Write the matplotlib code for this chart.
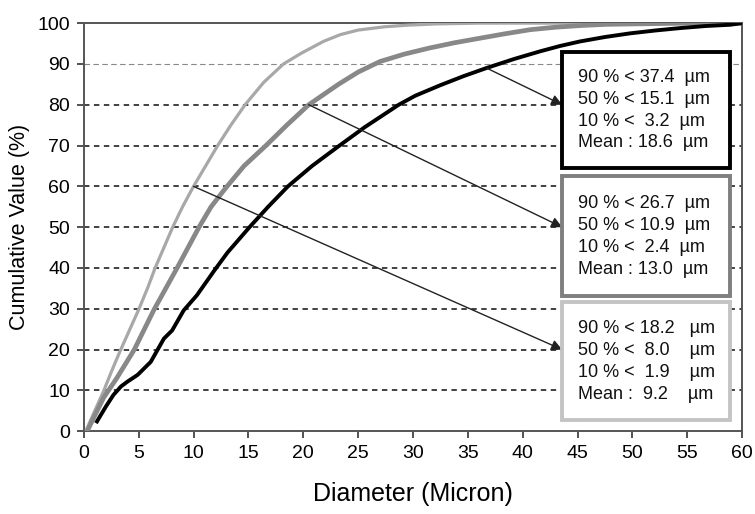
import matplotlib
matplotlib.use("Agg")
from matplotlib import pyplot as plt
from matplotlib.patches import Rectangle

plt.rcParams['font.family'] = ['Liberation Sans', 'DejaVu Sans']

# cumulative curves (diameter in micron, cumulative %)
coarse_x = [1.2, 2.0, 2.7, 3.4, 4.0, 4.9, 6.1, 7.3, 8.05, 9.1, 10.3, 11.9, 13.1, 15.1, 16.8, 18.6, 20.8,
            23.3, 25.6, 28.7, 30.2, 32.5, 34.6, 36.7, 39.2, 41.6, 43.4, 45.2, 47.5, 49.8, 52.1, 54.4, 56.7, 58.9, 60]
coarse_y = [2.4, 6.0, 8.9, 11.0, 12.2, 13.8, 17.0, 22.7, 24.7, 29.6, 33.3, 39.4, 43.8, 50, 55, 60, 65,
            70, 74.5, 80, 82.2, 84.8, 87.0, 89.0, 91.2, 93.1, 94.4, 95.5, 96.6, 97.5, 98.2, 98.8, 99.3, 99.6, 100]

mid_x = [0.3, 0.9, 1.8, 3.0, 4.6, 6.4, 8.5, 9.5, 10.5, 11.6, 12.9, 14.6, 16.6, 18.5, 20.5, 23.2, 25.0,
         27.0, 29.2, 31.5, 33.8, 36.1, 38.4, 40.7, 43.0, 45.2, 47.6, 50, 55, 60]
mid_y = [0, 3.3, 8.2, 13.0, 20.0, 29.8, 40, 45, 50, 55, 59.5, 65, 70, 75, 80, 85, 88,
         90.6, 92.4, 93.9, 95.2, 96.3, 97.4, 98.4, 99.0, 99.4, 99.7, 99.8, 100, 100]

fine_x = [0.3, 1.0, 1.8, 2.5, 3.3, 4.2, 5.0, 5.8, 6.5, 7.3, 8.1, 9.0, 10.0, 11.1, 12.2, 13.4, 14.7,
          16.4, 18.2, 19.8, 21.9, 23.4, 25.0, 27.4, 29.5, 32.0, 36.0, 40, 50, 60]
fine_y = [0.8, 5.0, 9.8, 14.5, 19.6, 25.0, 29.8, 35.0, 40, 45, 50, 55, 60, 65, 70, 75, 80,
          85.5, 90, 92.6, 95.6, 97.2, 98.3, 99.1, 99.5, 99.8, 100, 100, 100, 100]

box_texts = [
    "90 % < 37.4  \u00b5m\n50 % < 15.1  \u00b5m\n10 % <  3.2  \u00b5m\nMean : 18.6  \u00b5m",
    "90 % < 26.7  \u00b5m\n50 % < 10.9  \u00b5m\n10 % <  2.4  \u00b5m\nMean : 13.0  \u00b5m",
    "90 % < 18.2   \u00b5m\n50 % <  8.0    \u00b5m\n10 % <  1.9    \u00b5m\nMean :  9.2    \u00b5m",
]
box_colors = ['#000000', '#7f7f7f', '#c4c4c4']
# box extents (x0, y0, x1, y1) in data units and arrow start / tip
boxes = [(43.6, 64.5, 58.9, 92.9), (43.6, 33.1, 58.9, 62.5), (43.6, 2.7, 58.9, 31.6)]
arrow_from = [(36.7, 89.0), (20.5, 80), (10, 60)]
arrow_to = [(43.6, 80), (43.6, 50), (43.6, 20)]

fig = plt.figure(figsize=(7.55, 5.14), dpi=100)
ax = fig.add_axes([0.111, 0.161, 0.872, 0.794])

for yv in range(10, 100, 10):
    if yv == 90:
        ax.axhline(yv, color='#888888', lw=0.8, ls=(0, (5, 3)), zorder=1)
    else:
        ax.axhline(yv, color='#333333', lw=1.3, ls=(0, (3, 2.5)), zorder=1)

ax.plot(fine_x, fine_y, color='#a8a8a8', lw=2.3, zorder=3)
ax.plot(mid_x, mid_y, color='#888888', lw=3.4, zorder=3)
ax.plot(coarse_x, coarse_y, color='#000000', lw=2.8, zorder=3)

for (x0, y0, x1, y1), col, txt, p0, p1 in zip(boxes, box_colors, box_texts, arrow_from, arrow_to):
    ax.annotate("", xy=p1, xytext=p0,
                arrowprops=dict(arrowstyle='-|>', color='#222222', lw=1.0,
                                mutation_scale=16, shrinkA=0, shrinkB=0),
                zorder=4)
    ax.add_patch(Rectangle((x0, y0), x1 - x0, y1 - y0, facecolor='white',
                           edgecolor=col, lw=2.8, zorder=5))
    ax.text(x0 + 1.4, (y0 + y1) / 2, txt, fontsize=13, va='center', ha='left',
            linespacing=1.38, color='#111111', zorder=6)

ax.set_xlim(0, 60)
ax.set_ylim(0, 100)
ax.set_xticks(range(0, 61, 5))
ax.set_yticks(range(0, 101, 10))
ax.tick_params(labelsize=14, length=5, width=1.3, color='#444444', pad=5)
for sp in ax.spines.values():
    sp.set_color('#555555')
    sp.set_linewidth(1.4)

ax.set_xlabel("Diameter (Micron)", fontsize=18, labelpad=14)
ax.set_ylabel("Cumulative Value (%)", fontsize=15.5, labelpad=5)

plt.savefig('out.png', dpi=100)
